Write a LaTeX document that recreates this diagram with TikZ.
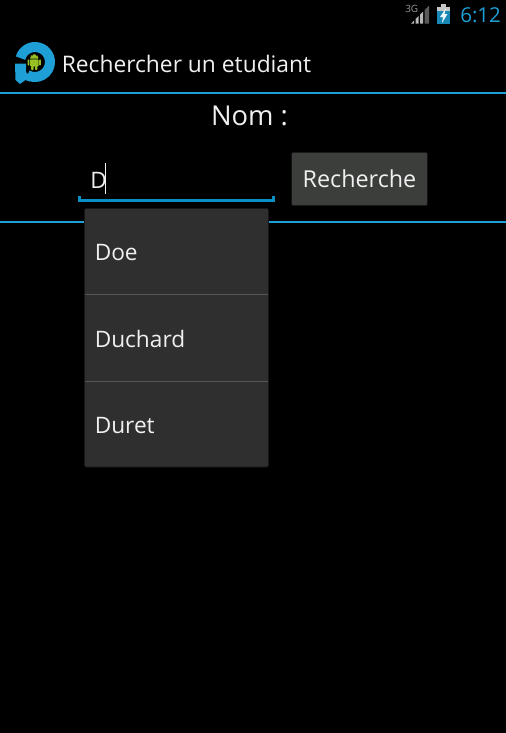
\documentclass[tikz,border=0pt]{standalone}
\usepackage{fontspec}
\setmainfont{Open Sans}
\definecolor{holo}{HTML}{1E9FD6}
\definecolor{holodark}{HTML}{0A8FC4}
\definecolor{popup}{HTML}{2F2F2F}
\definecolor{sep}{HTML}{565656}
\definecolor{btn}{HTML}{3C3E3C}
\definecolor{txt}{HTML}{F0F0F0}
\definecolor{droid}{HTML}{97C024}
\definecolor{barlight}{HTML}{B8B8B8}
\definecolor{bardark}{HTML}{5A5A5A}
\tikzset{
  x=0.75pt,y=-0.75pt,
  lbl/.style={text=txt,inner sep=0pt,anchor=base west,font=\fontsize{17pt}{20pt}\selectfont},
  rule/.style={draw=holo,line width=0.9pt},
  sepline/.style={draw=sep,line width=0.75pt},
  droidpart/.style={fill=droid,rounded corners=0.6pt},
}
\begin{document}
\begin{tikzpicture}
\useasboundingbox (0,0) rectangle (506,733);
\fill[black] (0,0) rectangle (506,733);
% status bar
\node[text=holo,inner sep=0pt,anchor=base west,font=\fontsize{15.4pt}{18pt}\selectfont] (clock) at (460,22) {6:12};
\node[text=gray!80,inner sep=0pt,anchor=base west,font=\fontsize{7.5pt}{9pt}\selectfont] (net) at (405,12) {3G};
\fill[barlight] (411,23.5) -- (414,23.5) -- (414,20.5) -- cycle;
\fill[barlight] (415.5,23.5) -- (418.5,23.5) -- (418.5,16) -- (415.5,19) -- cycle;
\fill[barlight] (420,23.5) -- (423,23.5) -- (423,11.5) -- (420,14.5) -- cycle;
\fill[bardark] (424.5,23.5) -- (429,23.5) -- (429,5.5) -- (424.5,10) -- cycle;
\fill[gray!45] (437,7) rectangle (450,24);
\fill[gray!45] (441,4) rectangle (446,7);
\fill[holo!85!black] (437,11) rectangle (450,24);
\fill[white!90!holo] (446,8) -- (440,17) -- (443,17) -- (442,23) -- (447.5,14) -- (444.5,14) -- cycle;
% app icon
\draw[holo,line width=7.5pt] ({35+15*cos(195)},{62+15*sin(195)}) arc[start angle=195,end angle=480,radius=15];
\fill[holo] (15,63.5) -- (26,63.5) -- (26,72) -- (30,76) -- (30,81.5) -- (25.5,80) -- (20,84) -- (15.5,80) -- cycle;
\fill[droid] (30,58.5) arc[start angle=180,end angle=360,radius=4.3] -- cycle;
\fill[black] (32.2,55.7) circle[radius=0.5];
\fill[black] (36.4,55.7) circle[radius=0.5];
\fill[droidpart] (30,59.3) rectangle (38.6,66.5);
\fill[droidpart] (31.2,66) rectangle (33.6,70);
\fill[droidpart] (35,66) rectangle (37.4,70);
\fill[droidpart] (27.7,59.3) rectangle (29.4,65.5);
\fill[droidpart] (39.2,59.3) rectangle (40.9,65.5);
\node[lbl,font=\fontsize{17.1pt}{20pt}\selectfont] (title) at (61.5,72) {Rechercher un etudiant};
\draw[rule,line width=1.2pt] (0,93) -- (506,93);
% form
\node[text=txt,inner sep=0pt,anchor=base,font=\fontsize{20.5pt}{24pt}\selectfont] (nom) at (249.5,125.5) {Nom :};
\node[lbl] (d) at (90,188) {D};
\draw[txt!80,line width=0.6pt] (105.5,163) -- (105.5,194);
\draw[holodark,line width=1.6pt] (79.5,196) -- (79.5,200.5) -- (273.5,200.5) -- (273.5,196);
\node[draw=black!70!btn,fill=btn,rounded corners=1.5pt,minimum width=102pt,minimum height=40pt,inner sep=0pt,text=txt,font=\fontsize{17.5pt}{20pt}\selectfont] (search) at (359.5,179) {Recherche};
\draw[rule,line width=0.9pt] (0,222) -- (506,222);
% dropdown
\fill[popup,draw=black!50!popup,line width=0.5pt,rounded corners=1pt] (84.5,208.5) rectangle (268.5,467);
\draw[sepline] (85,294.5) -- (268,294.5);
\draw[sepline] (85,381) -- (268,381);
\node[lbl] (doe) at (94.5,260) {Doe};
\node[lbl] (duchard) at (94.5,347) {Duchard};
\node[lbl] (duret) at (94.5,433) {Duret};
\end{tikzpicture}
\end{document}
